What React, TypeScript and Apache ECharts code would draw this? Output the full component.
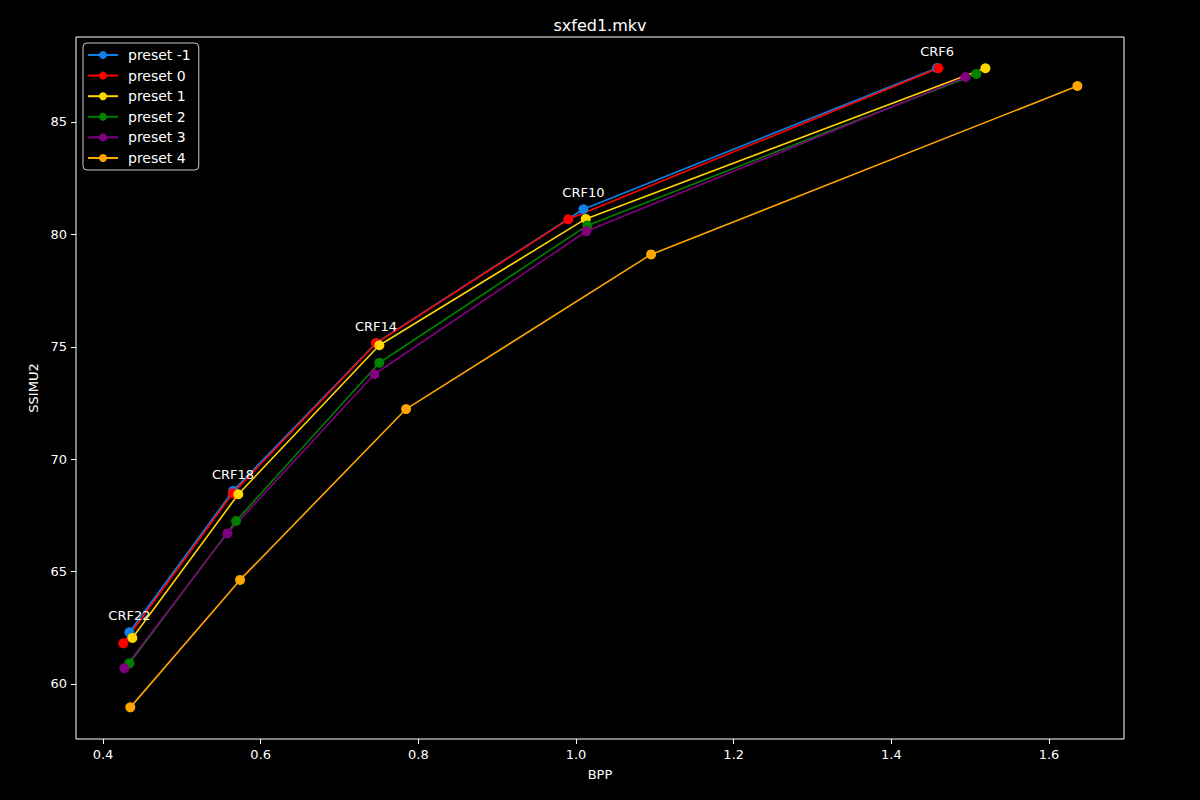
import React, { useEffect, useRef } from "react";
import * as echarts from "echarts";

const crfLabels = ["CRF22", "CRF18", "CRF14", "CRF10", "CRF6"];
const seriesNames = ["preset -1", "preset 0", "preset 1", "preset 2", "preset 3", "preset 4"];
const seriesColors = ["#0f80e6", "#ff0000", "#ffd700", "#008000", "#800080", "#ffa500"];

const bppM1 = [0.4334, 0.5649, 0.7463, 1.0093, 1.458];
const ssimM1 = [62.3, 68.59, 75.17, 81.12, 87.4];
const bpp0 = [0.4258, 0.5645, 0.7463, 0.9903, 1.4596];
const ssim0 = [61.81, 68.48, 75.16, 80.67, 87.39];
const bpp1 = [0.4372, 0.5716, 0.7505, 1.0123, 1.5193];
const ssim1 = [62.05, 68.44, 75.07, 80.69, 87.39];
const bpp2 = [0.4334, 0.5687, 0.7505, 1.0144, 1.5078];
const ssim2 = [60.92, 67.25, 74.29, 80.4, 87.14];
const bpp3 = [0.427, 0.5577, 0.7442, 1.0131, 1.4939];
const ssim3 = [60.7, 66.7, 73.78, 80.14, 87.0];
const bpp4 = [0.4346, 0.5738, 0.7844, 1.0952, 1.636];
const ssim4 = [58.96, 64.63, 72.23, 79.11, 86.6];

const xTicks = [0.4, 0.6, 0.8, 1.0, 1.2, 1.4, 1.6];
const yTicks = [60, 65, 70, 75, 80, 85];

const allBpp = [bppM1, bpp0, bpp1, bpp2, bpp3, bpp4];
const allSsim = [ssimM1, ssim0, ssim1, ssim2, ssim3, ssim4];

const FONT = "DejaVu Sans";

export default function App() {
  const ref = useRef<HTMLDivElement>(null);
  useEffect(() => {
    const chart = echarts.init(ref.current!, null, { renderer: "svg" });
    const series = seriesNames.map((name, i) => ({
      name,
      type: "line",
      data: allBpp[i].map((x, j) => [x, allSsim[i][j]]),
      symbol: "circle",
      symbolSize: 10,
      showSymbol: true,
      lineStyle: { width: 1.6, color: seriesColors[i] },
      itemStyle: { color: seriesColors[i] },
      label:
        i === 0
          ? {
              show: true,
              position: "top",
              distance: 5,
              color: "#ffffff",
              fontSize: 13,
              fontFamily: FONT,
              formatter: (p: any) => crfLabels[p.dataIndex],
            }
          : { show: false },
      emphasis: { disabled: true },
    }));
    chart.setOption({
      animation: false,
      backgroundColor: "#000000",
      textStyle: { fontFamily: FONT },
      title: {
        text: "sxfed1.mkv",
        left: "center",
        top: 12,
        textStyle: { color: "#ffffff", fontSize: 16, fontWeight: "normal", fontFamily: FONT },
      },
      legend: {
        orient: "vertical",
        left: 83,
        top: 43,
        padding: [5, 8, 5, 4],
        itemWidth: 30,
        itemHeight: 10,
        itemGap: 6.6,
        backgroundColor: "#000000",
        borderColor: "#cccccc",
        borderWidth: 1,
        borderRadius: 4,
        textStyle: { color: "#ffffff", fontSize: 14, fontFamily: FONT, padding: [0, 0, 0, 5] },
        data: seriesNames,
      },
      grid: {
        left: 76,
        right: 76,
        top: 37,
        bottom: 61,
        show: true,
        borderColor: "#ffffff",
        borderWidth: 1,
        backgroundColor: "#000000",
      },
      xAxis: {
        type: "value",
        min: 0.3657,
        max: 1.6951,
        name: "BPP",
        nameLocation: "middle",
        nameGap: 29,
        nameTextStyle: { color: "#ffffff", fontSize: 13, fontFamily: FONT },
        axisLine: { show: false },
        splitLine: { show: false },
        axisTick: {
          show: true,
          inside: false,
          length: 5,
          lineStyle: { color: "#ffffff" },
          customValues: xTicks,
        },
        axisLabel: {
          color: "#ffffff",
          fontSize: 13,
          fontFamily: FONT,
          margin: 9,
          customValues: xTicks,
          formatter: (v: number) => v.toFixed(1),
        },
      },
      yAxis: {
        type: "value",
        min: 57.553,
        max: 88.781,
        name: "SSIMU2",
        nameLocation: "middle",
        nameGap: 34,
        nameTextStyle: { color: "#ffffff", fontSize: 13, fontFamily: FONT },
        axisLine: { show: false },
        splitLine: { show: false },
        axisTick: {
          show: true,
          inside: false,
          length: 5,
          lineStyle: { color: "#ffffff" },
          customValues: yTicks,
        },
        axisLabel: {
          color: "#ffffff",
          fontSize: 13,
          fontFamily: FONT,
          margin: 9,
          customValues: yTicks,
          formatter: (v: number) => String(Math.round(v)),
        },
      },
      series,
    });
    return () => chart.dispose();
  }, []);
  return (
    <div
      ref={ref}
      style={{ position: "fixed", left: 0, top: 0, width: 1200, height: 800, background: "#000" }}
    />
  );
}
